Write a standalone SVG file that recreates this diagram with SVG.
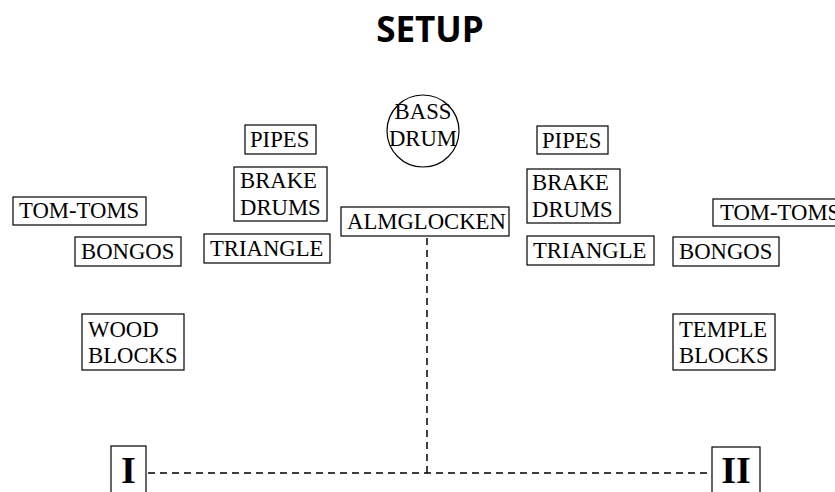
<svg xmlns="http://www.w3.org/2000/svg" width="835" height="492" viewBox="0 0 835 492">
<style>
.b{fill:#fff;stroke:#000;stroke-width:1.2}
.t{font-family:"Liberation Serif","Times New Roman",serif;font-size:22.7px;fill:#000}
.r{font-family:"Liberation Serif","Times New Roman",serif;font-size:38px;font-weight:bold;fill:#000}
.c{fill:none;stroke:#000;stroke-width:1.5;stroke-dasharray:7,5}
</style>
<rect width="835" height="492" fill="#fff"/>
<text x="430" y="42" text-anchor="middle" style="font-family:'Open Sans','DejaVu Sans',sans-serif;font-weight:bold;font-size:35px">SETUP</text>
<g id="connectors">
<path class="c" d="M427,238 V473"/>
<path class="c" d="M148,473 H708"/>
</g>
<g id="bassdrum"><circle class="b" cx="423" cy="131" r="36"/><text class="t" x="423" y="119" text-anchor="middle">BASS</text><text class="t" x="423" y="146" text-anchor="middle">DRUM</text></g>
<g id="pipes-l"><rect class="b" x="245" y="125" width="71" height="29"/><text class="t" x="250" y="147">PIPES</text></g>
<g id="brake-l"><rect class="b" x="234" y="167" width="93" height="54"/><text class="t" x="240" y="188">BRAKE</text><text class="t" x="240" y="215">DRUMS</text></g>
<g id="triangle-l"><rect class="b" x="204" y="234" width="126" height="29"/><text class="t" x="210" y="256">TRIANGLE</text></g>
<g id="tomtoms-l"><rect class="b" x="13" y="197" width="133" height="28"/><text class="t" x="19" y="218">TOM-TOMS</text></g>
<g id="bongos-l"><rect class="b" x="75" y="237" width="106" height="29"/><text class="t" x="81" y="259">BONGOS</text></g>
<g id="woodblocks"><rect class="b" x="82" y="314" width="102" height="56"/><text class="t" x="88" y="337">WOOD</text><text class="t" x="88" y="363">BLOCKS</text></g>
<g id="almglocken"><rect class="b" x="341" y="207" width="168" height="29"/><text class="t" x="347" y="229">ALMGLOCKEN</text></g>
<g id="pipes-r"><rect class="b" x="537" y="126" width="71" height="28"/><text class="t" x="542" y="148">PIPES</text></g>
<g id="brake-r"><rect class="b" x="527" y="169" width="93" height="54"/><text class="t" x="532" y="190">BRAKE</text><text class="t" x="532" y="217">DRUMS</text></g>
<g id="triangle-r"><rect class="b" x="527" y="236" width="127" height="29"/><text class="t" x="533" y="258">TRIANGLE</text></g>
<g id="tomtoms-r"><rect class="b" x="713" y="199" width="133" height="27"/><text class="t" x="720" y="220">TOM-TOMS</text></g>
<g id="bongos-r"><rect class="b" x="673" y="237" width="106" height="29"/><text class="t" x="679" y="259">BONGOS</text></g>
<g id="templeblocks"><rect class="b" x="673" y="314" width="102" height="56"/><text class="t" x="679" y="337">TEMPLE</text><text class="t" x="679" y="363">BLOCKS</text></g>
<g id="player1"><rect class="b" x="111" y="446" width="35" height="60"/><text class="r" x="128.5" y="483" text-anchor="middle">I</text></g>
<g id="player2"><rect class="b" x="712" y="447" width="48" height="60"/><text class="r" x="736" y="483" text-anchor="middle">II</text></g>
</svg>
